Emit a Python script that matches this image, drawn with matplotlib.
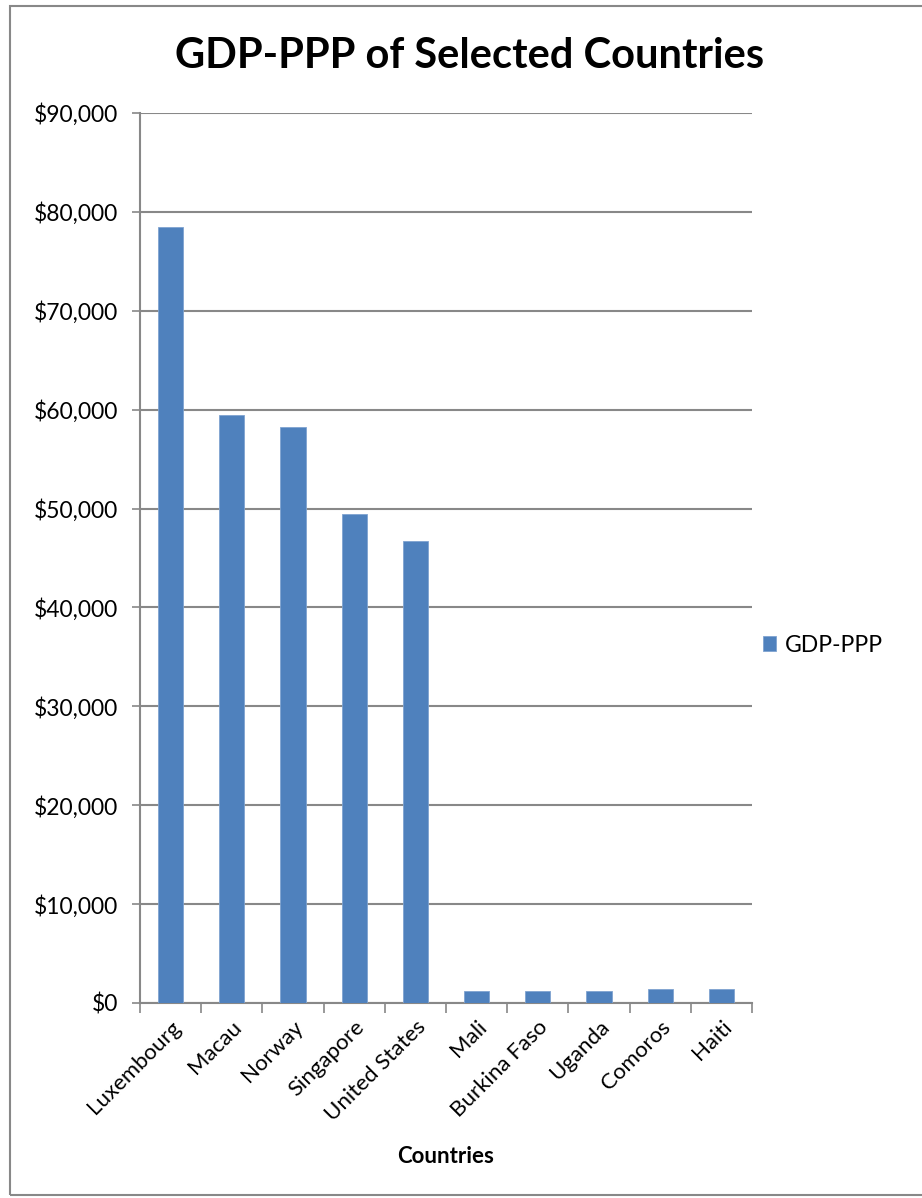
import matplotlib.pyplot as plt
from matplotlib.ticker import FuncFormatter, FixedLocator
from matplotlib.patches import Rectangle

countries = ['Luxembourg', 'Macau', 'Norway', 'Singapore', 'United States',
             'Mali', 'Burkina Faso', 'Uganda', 'Comoros', 'Haiti']
gdp_ppp = [78500, 59500, 58200, 49400, 46700, 1200, 1200, 1200, 1400, 1400]

plt.rcParams['font.family'] = ['Lato', 'DejaVu Sans']

fig = plt.figure(figsize=(9.22, 11.98), dpi=100)
fig.patches.append(Rectangle((10 / 922, 3 / 1198), 1.2, 1 - 9 / 1198,
                             transform=fig.transFigure, fill=False,
                             edgecolor='#888888', linewidth=1.5))

ax = fig.add_axes([140 / 922, 1 - 1003 / 1198, 612 / 922, 890 / 1198])
x = list(range(len(countries)))
ax.bar(x, gdp_ppp, width=0.41, color='#4F81BD', edgecolor='#7FA3D0',
       linewidth=0.6, label='GDP-PPP', zorder=3)

ax.set_xlim(-0.5, len(countries) - 0.5)
ax.set_ylim(0, 90000)
ax.set_yticks(range(0, 90001, 10000))
ax.yaxis.set_major_formatter(FuncFormatter(lambda v, p: '${:,.0f}'.format(v)))
ax.grid(axis='y', color='#888888', linewidth=1.5, zorder=0)

ax.set_xticks(x)
ax.set_xticklabels(countries, rotation=45, ha='right', rotation_mode='anchor')
ax.xaxis.set_minor_locator(FixedLocator([i - 0.5 for i in range(len(countries) + 1)]))
ax.tick_params(axis='x', which='major', length=0, pad=10, labelsize=16)
ax.tick_params(axis='x', which='minor', length=7, width=1.2, color='#888888')
ax.tick_params(axis='y', length=6, width=1.2, color='#888888', pad=10, labelsize=16.5)

for side in ['top', 'right']:
    ax.spines[side].set_visible(False)
for side in ['left', 'bottom']:
    ax.spines[side].set_color('#888888')
    ax.spines[side].set_linewidth(1.5)

ax.set_xlabel('Countries', fontsize=16, fontweight='bold', labelpad=15)
fig.text(470 / 922, 1 - 56 / 1198, 'GDP-PPP of Selected Countries',
         ha='center', va='center', fontsize=30, fontweight='bold')

fig.legend(loc='center left', bbox_to_anchor=(742 / 922, 1 - 645 / 1198),
           frameon=False, fontsize=16.5, handlelength=0.6, handleheight=0.6,
           handletextpad=0.35)

fig.savefig('out.png', dpi=100)
